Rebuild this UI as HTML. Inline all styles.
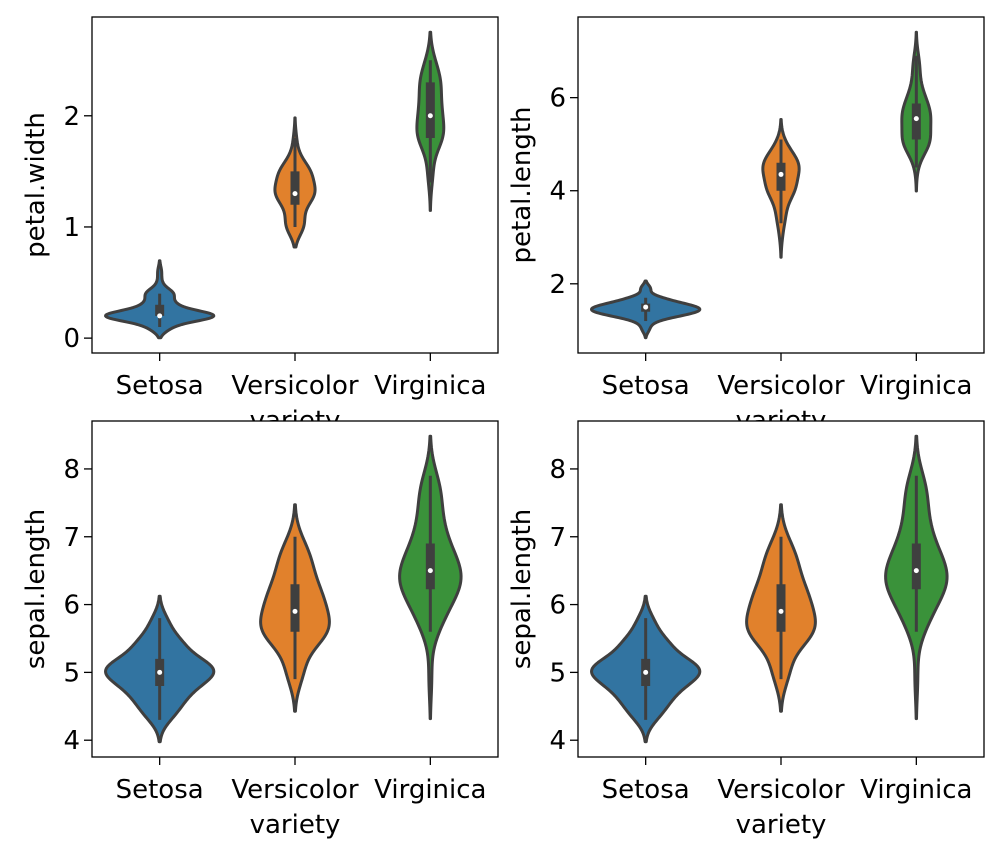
<!DOCTYPE html>
<html><head><meta charset="utf-8"><style>
html,body{margin:0;padding:0;background:#fff;}
svg text{font-family:"DejaVu Sans","Liberation Sans",sans-serif;font-size:26px;fill:#000;}
</style></head><body>
<svg id="fig" width="1003" height="858" xmlns="http://www.w3.org/2000/svg"></svg>
<script>
const categories = ["Setosa","Versicolor","Virginica"];
const petalWidthSetosa = [0.2,0.2,0.2,0.2,0.2,0.4,0.3,0.2,0.2,0.1,0.2,0.2,0.1,0.1,0.2,0.4,0.4,0.3,0.3,0.3,0.2,0.4,0.2,0.5,0.2,0.2,0.4,0.2,0.2,0.2,0.2,0.4,0.1,0.2,0.2,0.2,0.2,0.1,0.2,0.2,0.3,0.3,0.2,0.6,0.4,0.3,0.2,0.2,0.2,0.2];
const petalWidthVersicolor = [1.4,1.5,1.5,1.3,1.5,1.3,1.6,1.0,1.3,1.4,1.0,1.5,1.0,1.4,1.3,1.4,1.5,1.0,1.5,1.1,1.8,1.3,1.5,1.2,1.3,1.4,1.4,1.7,1.5,1.0,1.1,1.0,1.2,1.6,1.5,1.6,1.5,1.3,1.3,1.3,1.2,1.4,1.2,1.0,1.3,1.2,1.3,1.3,1.1,1.3];
const petalWidthVirginica = [2.5,1.9,2.1,1.8,2.2,2.1,1.7,1.8,1.8,2.5,2.0,1.9,2.1,2.0,2.4,2.3,1.8,2.2,2.3,1.5,2.3,2.0,2.0,1.8,2.1,1.8,1.8,1.8,2.1,1.6,1.9,2.0,2.2,1.5,1.4,2.3,2.4,1.8,1.8,2.1,2.4,2.3,1.9,2.3,2.5,2.3,1.9,2.0,2.3,1.8];
const petalLengthSetosa = [1.4,1.4,1.3,1.5,1.4,1.7,1.4,1.5,1.4,1.5,1.5,1.6,1.4,1.1,1.2,1.5,1.3,1.4,1.7,1.5,1.7,1.5,1.0,1.7,1.9,1.6,1.6,1.5,1.4,1.6,1.6,1.5,1.5,1.4,1.5,1.2,1.3,1.4,1.3,1.5,1.3,1.3,1.3,1.6,1.9,1.4,1.6,1.4,1.5,1.4];
const petalLengthVersicolor = [4.7,4.5,4.9,4.0,4.6,4.5,4.7,3.3,4.6,3.9,3.5,4.2,4.0,4.7,3.6,4.4,4.5,4.1,4.5,3.9,4.8,4.0,4.9,4.7,4.3,4.4,4.8,5.0,4.5,3.5,3.8,3.7,3.9,5.1,4.5,4.5,4.7,4.4,4.1,4.0,4.4,4.6,4.0,3.3,4.2,4.2,4.2,4.3,3.0,4.1];
const petalLengthVirginica = [6.0,5.1,5.9,5.6,5.8,6.6,4.5,6.3,5.8,6.1,5.1,5.3,5.5,5.0,5.1,5.3,5.5,6.7,6.9,5.0,5.7,4.9,6.7,4.9,5.7,6.0,4.8,4.9,5.6,5.8,6.1,6.4,5.6,5.1,5.6,6.1,5.6,5.5,4.8,5.4,5.6,5.1,5.1,5.9,5.7,5.2,5.0,5.2,5.4,5.1];
const sepalLengthSetosa = [5.1,4.9,4.7,4.6,5.0,5.4,4.6,5.0,4.4,4.9,5.4,4.8,4.8,4.3,5.8,5.7,5.4,5.1,5.7,5.1,5.4,5.1,4.6,5.1,4.8,5.0,5.0,5.2,5.2,4.7,4.8,5.4,5.2,5.5,4.9,5.0,5.5,4.9,4.4,5.1,5.0,4.5,4.4,5.0,5.1,4.8,5.1,4.6,5.3,5.0];
const sepalLengthVersicolor = [7.0,6.4,6.9,5.5,6.5,5.7,6.3,4.9,6.6,5.2,5.0,5.9,6.0,6.1,5.6,6.7,5.6,5.8,6.2,5.6,5.9,6.1,6.3,6.1,6.4,6.6,6.8,6.7,6.0,5.7,5.5,5.5,5.8,6.0,5.4,6.0,6.7,6.3,5.6,5.5,5.5,6.1,5.8,5.0,5.6,5.7,5.7,6.2,5.1,5.7];
const sepalLengthVirginica = [6.3,5.8,7.1,6.3,6.5,7.6,4.9,7.3,6.7,7.2,6.5,6.4,6.8,5.7,5.8,6.4,6.5,7.7,7.7,6.0,6.9,5.6,7.7,6.3,6.7,7.2,6.2,6.1,6.4,7.2,7.4,7.9,6.4,6.3,6.1,7.7,6.3,6.4,6.0,6.9,6.7,6.9,5.8,6.8,6.7,6.7,6.3,6.5,6.2,5.9];
const ticksPetalWidth = [0,1,2];
const ticksPetalLength = [2,4,6];
const ticksSepalLength = [4,5,6,7,8];

const NS="http://www.w3.org/2000/svg";
const svg=document.getElementById('fig');
const colors=["#3274a1","#e1812c","#3a923a"];
const edge="#3f3f3f";
function mk(tag,attrs,parent){const e=document.createElementNS(NS,tag);for(const k in attrs)e.setAttribute(k,attrs[k]);(parent||svg).appendChild(e);return e;}
function kde(d){const n=d.length;const m=d.reduce((a,b)=>a+b,0)/n;const sd=Math.sqrt(d.reduce((a,b)=>a+(b-m)*(b-m),0)/(n-1));const bw=sd*Math.pow(n,-0.2);
 const lo=Math.min(...d)-2*bw,hi=Math.max(...d)+2*bw;const g=[],den=[];
 for(let i=0;i<100;i++){const y=lo+(hi-lo)*i/99;let s=0;for(const x of d){const z=(y-x)/bw;s+=Math.exp(-0.5*z*z);}g.push(y);den.push(s/(n*bw*Math.sqrt(2*Math.PI)));}
 return {g,den,lo,hi};}
function pct(d,p){const s=[...d].sort((a,b)=>a-b);const i=(s.length-1)*p;const f=Math.floor(i);return s[f]+(s[Math.min(f+1,s.length-1)]-s[f])*(i-f);}

const panels=[
 {x0:92,y0:17,label:"petal.width",ticks:ticksPetalWidth,data:[petalWidthSetosa,petalWidthVersicolor,petalWidthVirginica],name:"petal-width"},
 {x0:578,y0:17,label:"petal.length",ticks:ticksPetalLength,data:[petalLengthSetosa,petalLengthVersicolor,petalLengthVirginica],name:"petal-length"},
 {x0:92,y0:421,label:"sepal.length",ticks:ticksSepalLength,data:[sepalLengthSetosa,sepalLengthVersicolor,sepalLengthVirginica],name:"sepal-length-left"},
 {x0:578,y0:421,label:"sepal.length",ticks:ticksSepalLength,data:[sepalLengthSetosa,sepalLengthVersicolor,sepalLengthVirginica],name:"sepal-length-right"}];
const W=406,H=336;
panels.forEach((p,pi)=>{
 const g=mk('g',{});
 
 
 mk('rect',{x:p.x0,y:p.y0,width:W,height:H,fill:'#fff'},g);
 const ks=p.data.map(kde);
 let lo=Math.min(...ks.map(k=>k.lo)),hi=Math.max(...ks.map(k=>k.hi));const pad=(hi-lo)*0.05;lo-=pad;hi+=pad;
 const ys=v=>p.y0+H-(v-lo)/(hi-lo)*H;
 const xs=i=>p.x0+(i+0.5)/3*W;
 const gmax=Math.max(...ks.map(k=>Math.max(...k.den)));
 const hw=W/3*0.4;
 ks.forEach((k,i)=>{
  const cx=xs(i);let r='',l='';
  for(let j=0;j<k.g.length;j++){const w=k.den[j]/gmax*hw;r+=(j?'L':'M')+(cx+w).toFixed(2)+','+ys(k.g[j]).toFixed(2);}
  for(let j=k.g.length-1;j>=0;j--){const w=k.den[j]/gmax*hw;l+='L'+(cx-w).toFixed(2)+','+ys(k.g[j]).toFixed(2);}
  const v=mk('path',{d:r+l+'Z',fill:colors[i],stroke:edge,'stroke-width':3,'stroke-linejoin':'round'},g);
  
  
  const d=p.data[i];const q1=pct(d,0.25),q3=pct(d,0.75),med=pct(d,0.5),iqr=q3-q1;
  const h1=Math.min(...d.filter(x=>x>=q1-1.5*iqr)),h2=Math.max(...d.filter(x=>x<=q3+1.5*iqr));
  const wl=mk('line',{x1:cx,x2:cx,y1:ys(h1),y2:ys(h2),stroke:edge,'stroke-width':3},g);
  
  
  const bx=mk('line',{x1:cx,x2:cx,y1:ys(q1),y2:ys(q3),stroke:edge,'stroke-width':9},g);
  
  
  const md=mk('circle',{cx:cx,cy:ys(med),r:2.5,fill:'#fff'},g);
  
  
  mk('line',{x1:cx,x2:cx,y1:p.y0+H,y2:p.y0+H+8,stroke:'#000','stroke-width':1.3},g);
  const t=mk('text',{x:cx,y:p.y0+H+41,'text-anchor':'middle'},g);t.textContent=categories[i];
  
  
 });
 p.ticks.forEach(tv=>{const y=ys(tv);
  mk('line',{x1:p.x0-8,x2:p.x0,y1:y,y2:y,stroke:'#000','stroke-width':1.3},g);
  const t=mk('text',{x:p.x0-12,y:y+9,'text-anchor':'end'},g);t.textContent=tv;
  
  
 });
 mk('rect',{x:p.x0,y:p.y0,width:W,height:H,fill:'none',stroke:'#000','stroke-width':1.3},g);
 const yl=mk('text',{x:0,y:0,'text-anchor':'middle',transform:`translate(${p.x0-48},${p.y0+H/2}) rotate(-90)`},g);yl.textContent=p.label;
 
 
 const xl=mk('text',{x:p.x0+W/2,y:p.y0+H+76,'text-anchor':'middle'},g);xl.textContent='variety';
 
 
});
const gs=[...svg.children];svg.appendChild(gs[2]);svg.appendChild(gs[3]);
</script>
</body></html>
